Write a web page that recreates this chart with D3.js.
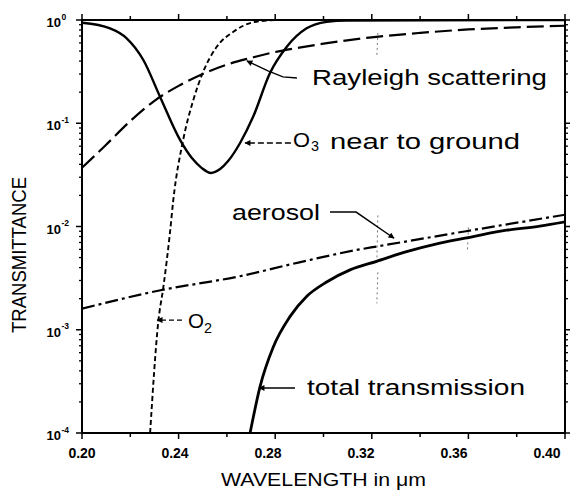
<!DOCTYPE html>
<html>
<head>
<meta charset="utf-8">
<script src="https://cdn.jsdelivr.net/npm/d3@7"></script>
<style>
	body { margin: 0; background: #fff; }
	svg { display: block; }
	text { font-family: Arial, "Liberation Sans", Helvetica, sans-serif; fill: #000; }
</style>
</head>
<body>
<div id="chart"></div>
<script>
// data: [wavelength in um, transmittance]
let rayleigh = [[0.200, 0.037], [0.210, 0.062], [0.220, 0.105], [0.230, 0.165], [0.240, 0.23], [0.250, 0.30],
	[0.260, 0.37], [0.270, 0.43], [0.280, 0.49], [0.290, 0.54], [0.300, 0.59], [0.320, 0.68],
	[0.340, 0.75], [0.360, 0.81], [0.380, 0.85], [0.400, 0.88]];
let ozone = [[0.200, 0.94], [0.2116, 0.83], [0.2185, 0.665], [0.2254, 0.41], [0.2323, 0.181], [0.2406, 0.069],
	[0.2455, 0.046], [0.2495, 0.037], [0.2534, 0.0330], [0.2572, 0.036], [0.2605, 0.043], [0.2654, 0.064],
	[0.2709, 0.116], [0.2778, 0.305], [0.2848, 0.551], [0.2930, 0.83], [0.3013, 0.96], [0.3096, 0.99], [0.400, 1.0]];
let oxygen = [[0.2282, 0.0001], [0.2316, 0.0012], [0.2337, 0.0026], [0.2364, 0.0086], [0.2378, 0.018],
	[0.2419, 0.069], [0.2461, 0.168], [0.2502, 0.316], [0.2558, 0.55], [0.2627, 0.77], [0.2709, 0.95], [0.2800, 1.0]];
let aerosol = [[0.200, 0.0016], [0.232, 0.0024], [0.2654, 0.0033], [0.290, 0.0045], [0.315, 0.0060],
	[0.322, 0.0064], [0.359, 0.0090], [0.400, 0.0130]];
let total = [[0.2696, 0.0001], [0.2737, 0.00028], [0.2792, 0.00068], [0.2861, 0.00134], [0.2930, 0.0021],
	[0.3013, 0.0029], [0.3110, 0.0038], [0.3220, 0.0046], [0.3344, 0.0057], [0.3482, 0.0069],
	[0.3620, 0.0080], [0.3759, 0.0092], [0.3896, 0.0101], [0.400, 0.0111]];

let xTicks = [0.20, 0.24, 0.28, 0.32, 0.36, 0.40];
let xTickLabels = ["0.20", "0.24", "0.28", "0.32", "0.36", "0.40"];
let yExponents = [0, -1, -2, -3, -4];

//define chart constants
let svg = d3.select("#chart")
			.append("svg")
			.attr("width", 583)
			.attr("height", 492);
let plotLeft = 82, plotRight = 565, plotTop = 20, plotBottom = 433;

let x = d3.scaleLinear().domain([0.2, 0.4]).range([plotLeft, plotRight]),
	y = d3.scaleLog().domain([1e-4, 1]).range([plotBottom, plotTop]);
//tick labels in the original drift a bit to the left
let xLabel = d3.scaleLinear().domain([0.2, 0.4]).range([82, 547]);

let defs = svg.append("defs");
defs.append("clipPath")
	.attr("id", "plot")
	.append("rect")
	.attr("x", plotLeft).attr("y", plotTop)
	.attr("width", plotRight - plotLeft).attr("height", plotBottom - plotTop);

defs.append("marker")
	.attr("id", "arrow")
	.attr("viewBox", "0 0 10 10")
	.attr("refX", 9).attr("refY", 5)
	.attr("markerWidth", 9).attr("markerHeight", 6)
	.attr("markerUnits", "userSpaceOnUse")
	.attr("orient", "auto")
	.append("path")
	.attr("d", "M0,0L10,5L0,10Z")
	.style("fill", "#000");

//frame
svg.append("rect")
	.attr("x", plotLeft).attr("y", plotTop)
	.attr("width", plotRight - plotLeft).attr("height", plotBottom - plotTop)
	.style("fill", "none")
	.style("stroke", "#000")
	.style("stroke-width", 2);

//x ticks, every 0.02, on bottom and top, pointing out
let xMinor = d3.range(0, 11).map(function(i) { return 0.2 + i * 0.02; });
xMinor.forEach(function(v, i) {
	let len = (i % 2 == 0) ? 6 : 4;
	svg.append("line").attr("x1", x(v)).attr("x2", x(v)).attr("y1", plotBottom).attr("y2", plotBottom + len)
		.style("stroke", "#000").style("stroke-width", 1.5);
	svg.append("line").attr("x1", x(v)).attr("x2", x(v)).attr("y1", plotTop).attr("y2", plotTop - len)
		.style("stroke", "#000").style("stroke-width", 1.5);
});

//y ticks, decades and 2..9, on left and right
yExponents.forEach(function(e) {
	let v = Math.pow(10, e);
	svg.append("line").attr("x1", plotLeft - 6).attr("x2", plotLeft).attr("y1", y(v)).attr("y2", y(v))
		.style("stroke", "#000").style("stroke-width", 1.5);
	svg.append("line").attr("x1", plotRight).attr("x2", plotRight + 5).attr("y1", y(v)).attr("y2", y(v))
		.style("stroke", "#000").style("stroke-width", 1.5);
	if (e > -4) {
		d3.range(2, 10).forEach(function(m) {
			let w = v / 10 * m;
			svg.append("line").attr("x1", plotLeft - 3).attr("x2", plotLeft).attr("y1", y(w)).attr("y2", y(w))
				.style("stroke", "#000").style("stroke-width", 1.3);
			svg.append("line").attr("x1", plotRight).attr("x2", plotRight + 3).attr("y1", y(w)).attr("y2", y(w))
				.style("stroke", "#000").style("stroke-width", 1.3);
		});
	}
});

//tick labels
xTicks.forEach(function(v, i) {
	svg.append("text")
		.attr("x", xLabel(v)).attr("y", 458)
		.attr("text-anchor", "middle")
		.style("font-size", "14px")
		.style("font-weight", "bold")
		.text(xTickLabels[i]);
});
yExponents.forEach(function(e) {
	let yy = y(Math.pow(10, e));
	svg.append("text")
		.attr("x", 61).attr("y", yy + 7)
		.attr("text-anchor", "end")
		.style("font-size", "13px")
		.style("font-weight", "bold")
		.text("10");
	svg.append("text")
		.attr("x", 61.5).attr("y", yy - 0.5)
		.style("font-size", "8.5px")
		.style("font-weight", "bold")
		.text(e == 0 ? "0" : "-" + (-e));
});

//axis titles
svg.append("text")
	.attr("x", 221).attr("y", 486)
	.attr("textLength", 205)
	.attr("lengthAdjust", "spacingAndGlyphs")
	.style("font-size", "19px")
	.text("WAVELENGTH in \u03bcm");
svg.append("text")
	.attr("transform", "translate(26,333) rotate(-90)")
	.attr("textLength", 156)
	.attr("lengthAdjust", "spacingAndGlyphs")
	.style("font-size", "21px")
	.text("TRANSMITTANCE");

//faint dotted marks left on the original
let faint = [[0.3225, 0.75, 0.44], [0.3225, 0.0128, 0.0044], [0.3225, 0.0036, 0.0018], [0.360, 0.0098, 0.0056]];
faint.forEach(function(f) {
	svg.append("line")
		.attr("x1", x(f[0])).attr("x2", x(f[0]) - 1)
		.attr("y1", y(f[1])).attr("y2", y(f[2]))
		.style("stroke", "#777").style("stroke-width", 1)
		.style("stroke-dasharray", "2,3");
});

//curves
let line = d3.line()
	.x(function(d) { return x(d[0]); })
	.y(function(d) { return y(d[1]); })
	.curve(d3.curveMonotoneX);
let curves = svg.append("g").attr("clip-path", "url(#plot)");

curves.append("path").datum(rayleigh).attr("d", line)
	.style("fill", "none").style("stroke", "#000").style("stroke-width", 2.2)
	.style("stroke-dasharray", "17,6");
curves.append("path").datum(ozone).attr("d", line)
	.style("fill", "none").style("stroke", "#000").style("stroke-width", 2.4);
curves.append("path").datum(oxygen).attr("d", line)
	.style("fill", "none").style("stroke", "#000").style("stroke-width", 1.9)
	.style("stroke-dasharray", "5,3");
curves.append("path").datum(aerosol).attr("d", line)
	.style("fill", "none").style("stroke", "#000").style("stroke-width", 2.2)
	.style("stroke-dasharray", "13,4,3,4");
curves.append("path").datum(total).attr("d", line)
	.style("fill", "none").style("stroke", "#000").style("stroke-width", 2.8);

//leader lines, points in data units, drawn from label to curve
let leaders = [
	{pts: [[0.2890, 0.274], [0.2832, 0.281], [0.2770, 0.321], [0.2683, 0.401]], dash: null},
	{pts: [[0.2865, 0.0644], [0.2675, 0.0644]], dash: "6,3"},
	{pts: [[0.3027, 0.0138], [0.3135, 0.0138], [0.3292, 0.0077]], dash: null},
	{pts: [[0.2414, 0.00124], [0.2311, 0.00124]], dash: "5,3"},
	{pts: [[0.2882, 0.000273], [0.2733, 0.000273]], dash: null}
];
let leaderLine = d3.line()
	.x(function(d) { return x(d[0]); })
	.y(function(d) { return y(d[1]); });
leaders.forEach(function(l) {
	svg.append("path")
		.attr("d", leaderLine(l.pts))
		.style("fill", "none").style("stroke", "#000").style("stroke-width", 1.4)
		.style("stroke-dasharray", l.dash)
		.attr("marker-end", "url(#arrow)");
});

//curve labels
let label = function(tx, ty, str, len, size) {
	svg.append("text")
		.attr("x", tx).attr("y", ty)
		.attr("textLength", len)
		.attr("lengthAdjust", "spacingAndGlyphs")
		.style("font-size", size + "px")
		.text(str);
};
label(312, 85, "Rayleigh scattering", 235, 22);
label(293, 147, "O", 17, 20);
label(311, 151, "3", 8, 14);
label(330, 149, "near to ground", 190, 22);
label(232, 220, "aerosol", 88, 22);
label(188, 328, "O", 16, 20);
label(204, 333, "2", 8, 14);
label(307, 395, "total transmission", 218, 22);
</script>
</body>
</html>
